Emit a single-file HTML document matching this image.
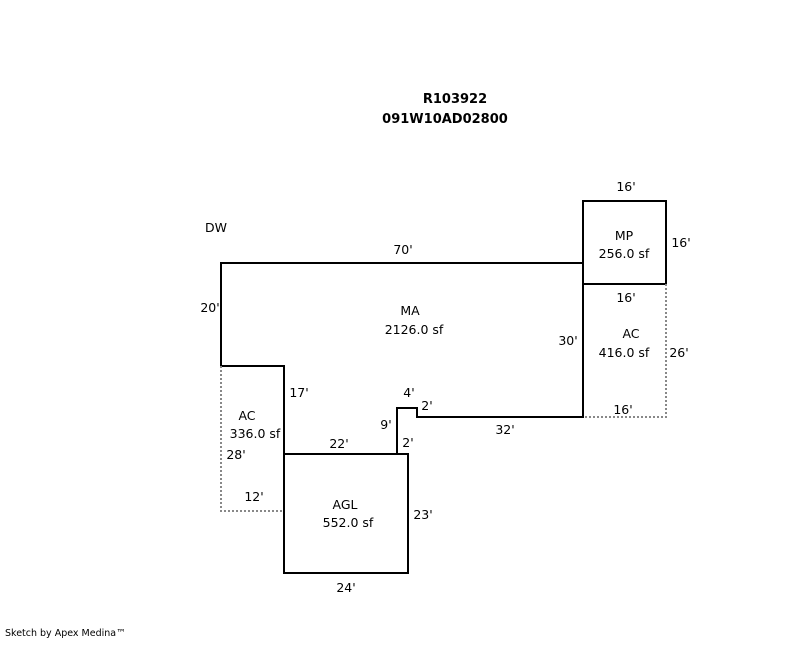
<!DOCTYPE html>
<html><head><style>
body{margin:0;background:#fff}
svg text{font-family:"DejaVu Sans","Liberation Sans",sans-serif;font-size:12.5px;fill:#000}
</style></head><body>
<svg width="800" height="640" xmlns="http://www.w3.org/2000/svg">
<g fill="none" stroke="#000" stroke-width="2">
<polyline points="583,263 221,263 221,366 284,366 284,454 397,454 397,408 417,408 417,417 583,417 583,263"/>
<rect x="284" y="454" width="124" height="119"/>
<rect x="583" y="201" width="83" height="83"/>
</g>
<g fill="none" stroke="#888" stroke-width="2" stroke-dasharray="2,2">
<polyline points="221,366 221,511 284,511"/>
<polyline points="666,284 666,417 583,417"/>
</g>
<text x="455" y="103" text-anchor="middle" font-weight="bold" style="font-size:13px">R103922</text>
<text x="445" y="123" text-anchor="middle" font-weight="bold" style="font-size:13px">091W10AD02800</text>
<text x="205" y="232">DW</text>
<text x="403" y="254" text-anchor="middle">70'</text>
<text x="626" y="191" text-anchor="middle">16'</text>
<text x="624" y="240" text-anchor="middle">MP</text>
<text x="624" y="258" text-anchor="middle">256.0 sf</text>
<text x="681" y="247" text-anchor="middle">16'</text>
<text x="626" y="302" text-anchor="middle">16'</text>
<text x="210" y="312" text-anchor="middle">20'</text>
<text x="410" y="315" text-anchor="middle">MA</text>
<text x="414" y="334" text-anchor="middle">2126.0 sf</text>
<text x="568" y="345" text-anchor="middle">30'</text>
<text x="631" y="338" text-anchor="middle">AC</text>
<text x="624" y="357" text-anchor="middle">416.0 sf</text>
<text x="679" y="357" text-anchor="middle">26'</text>
<text x="623" y="414" text-anchor="middle">16'</text>
<text x="299" y="397" text-anchor="middle">17'</text>
<text x="409" y="397" text-anchor="middle">4'</text>
<text x="427" y="410" text-anchor="middle">2'</text>
<text x="386" y="429" text-anchor="middle">9'</text>
<text x="505" y="434" text-anchor="middle">32'</text>
<text x="408" y="447" text-anchor="middle">2'</text>
<text x="339" y="448" text-anchor="middle">22'</text>
<text x="247" y="420" text-anchor="middle">AC</text>
<text x="255" y="438" text-anchor="middle">336.0 sf</text>
<text x="236" y="459" text-anchor="middle">28'</text>
<text x="254" y="501" text-anchor="middle">12'</text>
<text x="345" y="509" text-anchor="middle">AGL</text>
<text x="348" y="527" text-anchor="middle">552.0 sf</text>
<text x="423" y="519" text-anchor="middle">23'</text>
<text x="346" y="592" text-anchor="middle">24'</text>
<text x="5" y="636" style="font-size:9.5px">Sketch by Apex Medina™</text>
</svg>
</body></html>
